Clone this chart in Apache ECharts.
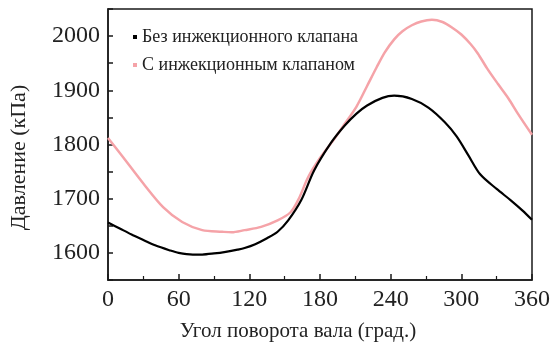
<!DOCTYPE html>
<html>
<head>
<meta charset="utf-8">
<script src="https://cdn.jsdelivr.net/npm/echarts@6/dist/echarts.min.js"></script>
<style>
  html, body { margin: 0; padding: 0; background: #fff; }
  #chart { width: 553px; height: 347px; }
</style>
</head>
<body>
<div id="chart"></div>
<script>
// Crank angle (degrees) and pressure (kPa) for each configuration
const seriesNames = ['Без инжекционного клапана', 'С инжекционным клапаном'];

const angleNoValve = [0, 10, 20, 30, 40, 52, 60, 72, 80, 90, 100, 110, 116, 125, 135, 144, 153,
  164, 175, 189, 201, 211, 220, 233, 243, 258, 272, 286, 296, 306, 316, 330, 342, 352, 360];
const pressureNoValve = [1656, 1645, 1634, 1624, 1614, 1605, 1600, 1597, 1597, 1599, 1602, 1606, 1609, 1616, 1627, 1639, 1660,
  1697, 1752, 1802, 1835, 1857, 1872, 1886, 1890, 1884, 1868, 1841, 1815, 1780, 1745, 1718, 1697, 1678, 1661];

const angleValve = [0, 13, 30, 47, 63, 80, 97, 105, 116, 130, 144, 155, 162, 170, 180, 191, 200, 211,
  220, 228, 235, 243, 250, 258, 266, 275, 284, 292, 300, 308, 314, 322, 331, 340, 348, 360];
const pressureValve = [1812, 1776, 1728, 1684, 1657, 1642, 1639, 1638, 1642, 1648, 1660, 1675, 1700, 1740, 1775, 1807, 1835, 1870,
  1908, 1942, 1970, 1994, 2009, 2020, 2027, 2030, 2026, 2016, 2003, 1985, 1968, 1940, 1912, 1885, 1857, 1818];

const xTicks = { min: 0, max: 360, step: 60 };
const yTicks = { min: 1550, max: 2050, step: 50 };

function pairs(xs, ys) {
  return xs.map((x, i) => [x, ys[i]]);
}

const serif = '"Liberation Serif", "DejaVu Serif", serif';
const chart = echarts.init(document.getElementById('chart'));

chart.setOption({
  animation: false,
  backgroundColor: '#ffffff',
  grid: {
    left: 104, right: 18, top: 9, bottom: 67,
    show: true, borderColor: '#1a1a1a', borderWidth: 1.5
  },
  legend: {
    orient: 'vertical',
    left: 128, top: 23,
    itemGap: 10,
    itemWidth: 4, itemHeight: 4,
    icon: 'rect',
    textStyle: { fontFamily: serif, fontSize: 18, color: '#222' },
    data: seriesNames
  },
  xAxis: {
    type: 'value',
    min: xTicks.min, max: xTicks.max, interval: xTicks.step,
    name: 'Угол поворота вала (град.)',
    nameLocation: 'middle', nameGap: 41,
    nameTextStyle: { fontFamily: serif, fontSize: 21, color: '#222', padding: [0, 44, 0, 0] },
    axisLine: { lineStyle: { color: '#1a1a1a', width: 1.5 } },
    axisTick: { inside: true, length: 6, lineStyle: { color: '#1a1a1a', width: 1.5 } },
    minorTick: { show: true, splitNumber: 2, length: 4, lineStyle: { color: '#1a1a1a', width: 1.2 } },
    axisLabel: { fontFamily: serif, fontSize: 24, color: '#222', margin: 8 },
    splitLine: { show: false }
  },
  yAxis: {
    type: 'value',
    min: yTicks.min, max: yTicks.max, interval: yTicks.step,
    name: 'Давление (кПа)',
    nameLocation: 'middle', nameGap: 78,
    nameTextStyle: { fontFamily: serif, fontSize: 22, color: '#222', padding: [0, 26, 0, 0] },
    axisLine: { lineStyle: { color: '#1a1a1a', width: 1.5 } },
    axisTick: { inside: true, length: 5, lineStyle: { color: '#1a1a1a', width: 1.5 } },
    axisLabel: {
      fontFamily: serif, fontSize: 24, color: '#222', margin: 8,
      formatter: v => (v % 100 === 0 ? String(v) : '')
    },
    splitLine: { show: false }
  },
  series: [
    {
      name: seriesNames[0],
      type: 'line',
      data: pairs(angleNoValve, pressureNoValve),
      smooth: 0.3,
      showSymbol: false,
      itemStyle: { color: '#000000' },
      lineStyle: { color: '#000000', width: 2.2 },
      z: 3
    },
    {
      name: seriesNames[1],
      type: 'line',
      data: pairs(angleValve, pressureValve),
      smooth: 0.3,
      showSymbol: false,
      itemStyle: { color: '#f5a3a8' },
      lineStyle: { color: '#f5a3a8', width: 2.5 },
      z: 2
    }
  ]
});
</script>
</body>
</html>
